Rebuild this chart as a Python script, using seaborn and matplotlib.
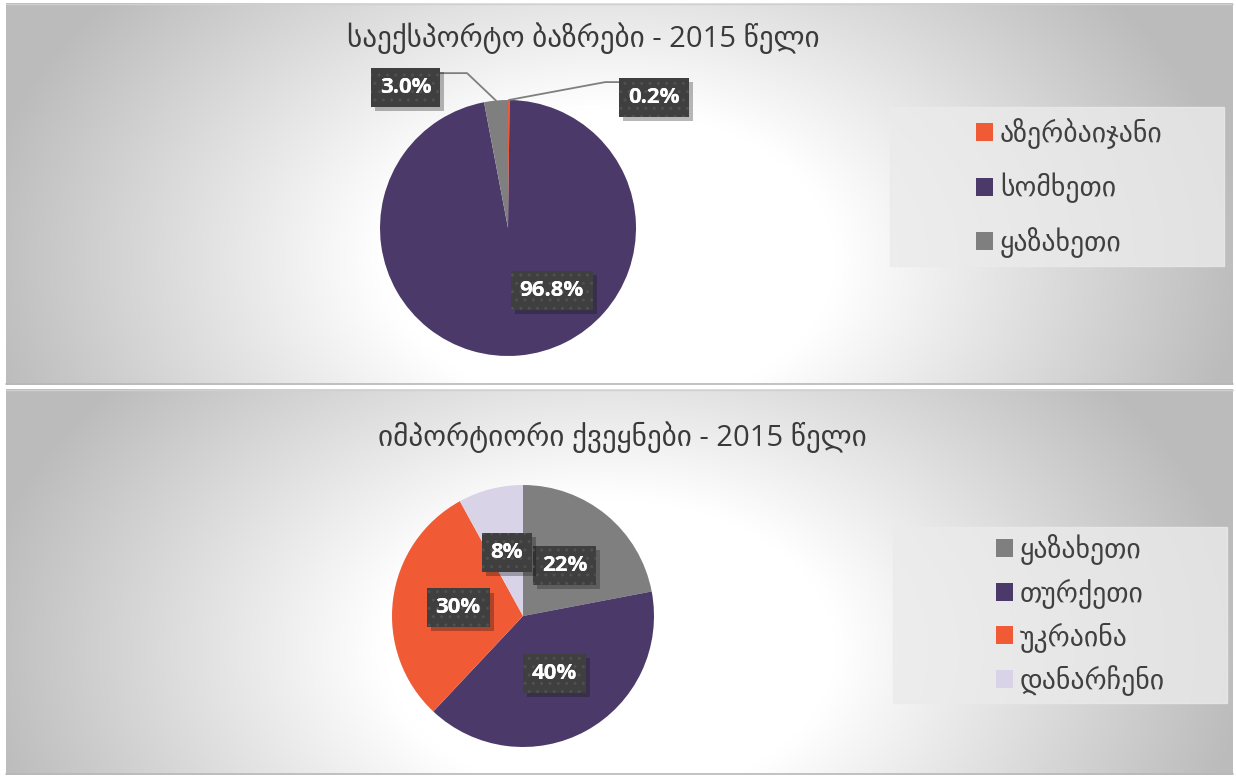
import numpy as np
import matplotlib
matplotlib.use("Agg")
import matplotlib.pyplot as plt
import matplotlib.patheffects as pe
from matplotlib.patches import Rectangle
import seaborn as sns

# ---------------- data ----------------
export_title = "საექსპორტო ბაზრები - 2015 წელი"
export_countries = ["აზერბაიჯანი", "სომხეთი", "ყაზახეთი"]
export_shares = [0.2, 96.8, 3.0]
export_colors = ["#F05A35", "#4B3A69", "#7F7F7F"]

import_title = "იმპორტიორი ქვეყნები - 2015 წელი"
import_countries = ["ყაზახეთი", "თურქეთი", "უკრაინა", "დანარჩენი"]
import_shares = [22, 40, 30, 8]
import_colors = ["#7F7F7F", "#4B3A69", "#F05A35", "#D9D3E8"]

# ---------------- style ----------------
sns.set_theme(style="white")
plt.rcParams["font.family"] = ["DejaVu Sans"]

W, H = 1236, 777
fig = plt.figure(figsize=(W / 100, H / 100), dpi=100)

# background with two gradient panels
bg = fig.add_axes([0, 0, 1, 1])
bg.set_xlim(0, W)
bg.set_ylim(H, 0)
bg.axis("off")
bg.add_patch(Rectangle((0, 0), W, H, color="white", zorder=0))


def panel(x0, y0, x1, y1, cx, cy):
    xs = np.linspace(x0, x1, 400)
    ys = np.linspace(y0, y1, 150)
    X, Y = np.meshgrid(xs, ys)
    r = np.sqrt(((X - cx) / 600.0) ** 2 + ((Y - cy) / 400.0) ** 2)
    t = np.clip((r - 0.38) / 0.62, 0, 1.1)
    v = 1 - 0.24 * t
    img = np.dstack([v, v, v])
    bg.imshow(img, extent=(x0, x1, y1, y0), aspect="auto", zorder=1,
              interpolation="bilinear")
    bg.plot([x0, x1], [y0 + 0.5, y0 + 0.5], color="#d0d0d0", lw=1, zorder=2)
    bg.plot([x0, x1], [y1 - 1, y1 - 1], color="#b8b8b8", lw=1.2, zorder=2)


panel(6, 3, 1233, 385, 610, 260)
panel(6, 389, 1233, 775, 610, 650)

# legend backgrounds
bg.add_patch(Rectangle((890, 107), 334, 159, color="#ebebeb", zorder=2, alpha=0.8))
bg.add_patch(Rectangle((893, 527), 334, 176, color="#ebebeb", zorder=2, alpha=0.8))


def pie_axes(cx, cy, r):
    ax = fig.add_axes([(cx - r) / W, 1 - (cy + r) / H, 2 * r / W, 2 * r / H])
    ax.set_facecolor("none")
    return ax


def label_box(ax, x, y, txt):
    kw = dict(ha="center", va="center", color="white", fontsize=16,
              fontweight="bold", family=["Open Sans", "DejaVu Sans"])
    t = ax.text(x, y, txt, zorder=10,
                bbox=dict(boxstyle="square,pad=0.4", facecolor="#3f3f3f",
                          edgecolor="none", linewidth=0), **kw)
    t.get_bbox_patch().set_path_effects(
        [pe.SimplePatchShadow(offset=(3, -3), alpha=0.3), pe.Normal()])
    ax.text(x, y, txt, zorder=11,
            bbox=dict(boxstyle="square,pad=0.4", facecolor="none",
                      edgecolor="#505050", hatch="..", linewidth=0), **kw)
    return t


# ---------------- top pie ----------------
ax1 = pie_axes(508, 228, 128)
w1, _ = ax1.pie(export_shares, colors=export_colors, startangle=90,
                counterclock=False, radius=1,
                wedgeprops=dict(linewidth=0))
ax1.set_xlim(-1, 1)
ax1.set_ylim(-1, 1)

top_label_pos = [(1.14, 1.02), (0.34, -0.49), (-0.80, 1.10)]
top_elbows = [(0.76, 1.14), None, (-0.32, 1.21)]
for wedge, share, pos, elbow in zip(w1, export_shares, top_label_pos, top_elbows):
    if elbow is not None:
        ang = np.deg2rad((wedge.theta1 + wedge.theta2) / 2)
        px, py = np.cos(ang) * 1.0, np.sin(ang) * 1.0
        ax1.plot([px, elbow[0], pos[0] + (-0.25 if pos[0] > 0 else 0.25)],
                 [py, elbow[1], elbow[1]], color="#7f7f7f", lw=1.3,
                 clip_on=False, zorder=5)
    label_box(ax1, pos[0], pos[1], f"{share:.1f}%")

fig.text(583 / W, 1 - 38 / H, export_title, ha="center", va="center",
         fontsize=21, color="#3a3a3a", family=["Open Sans", "DejaVu Sans"])

fig.legend(w1, export_countries, loc="center left",
           bbox_to_anchor=(962 / W, 1 - 188 / H), frameon=False,
           fontsize=20, labelcolor="#404040", handlelength=0.62,
           handleheight=0.62, handletextpad=0.25, labelspacing=0.85,
           borderpad=0)

# ---------------- bottom pie ----------------
ax2 = pie_axes(523, 616, 131)
w2, _ = ax2.pie(import_shares, colors=import_colors, startangle=90,
                counterclock=False, radius=1,
                wedgeprops=dict(linewidth=0))
ax2.set_xlim(-1, 1)
ax2.set_ylim(-1, 1)
for wedge, share in zip(w2, import_shares):
    ang = np.deg2rad((wedge.theta1 + wedge.theta2) / 2)
    label_box(ax2, 0.5 * np.cos(ang), 0.5 * np.sin(ang), f"{share:d}%")

fig.text(622 / W, 1 - 437 / H, import_title, ha="center", va="center",
         fontsize=21, color="#3a3a3a", family=["Open Sans", "DejaVu Sans"])

fig.legend(w2, import_countries, loc="center left",
           bbox_to_anchor=(982 / W, 1 - 615 / H), frameon=False,
           fontsize=20, labelcolor="#404040", handlelength=0.62,
           handleheight=0.62, handletextpad=0.25, labelspacing=0.49,
           borderpad=0)

fig.savefig("out.png", dpi=100)
